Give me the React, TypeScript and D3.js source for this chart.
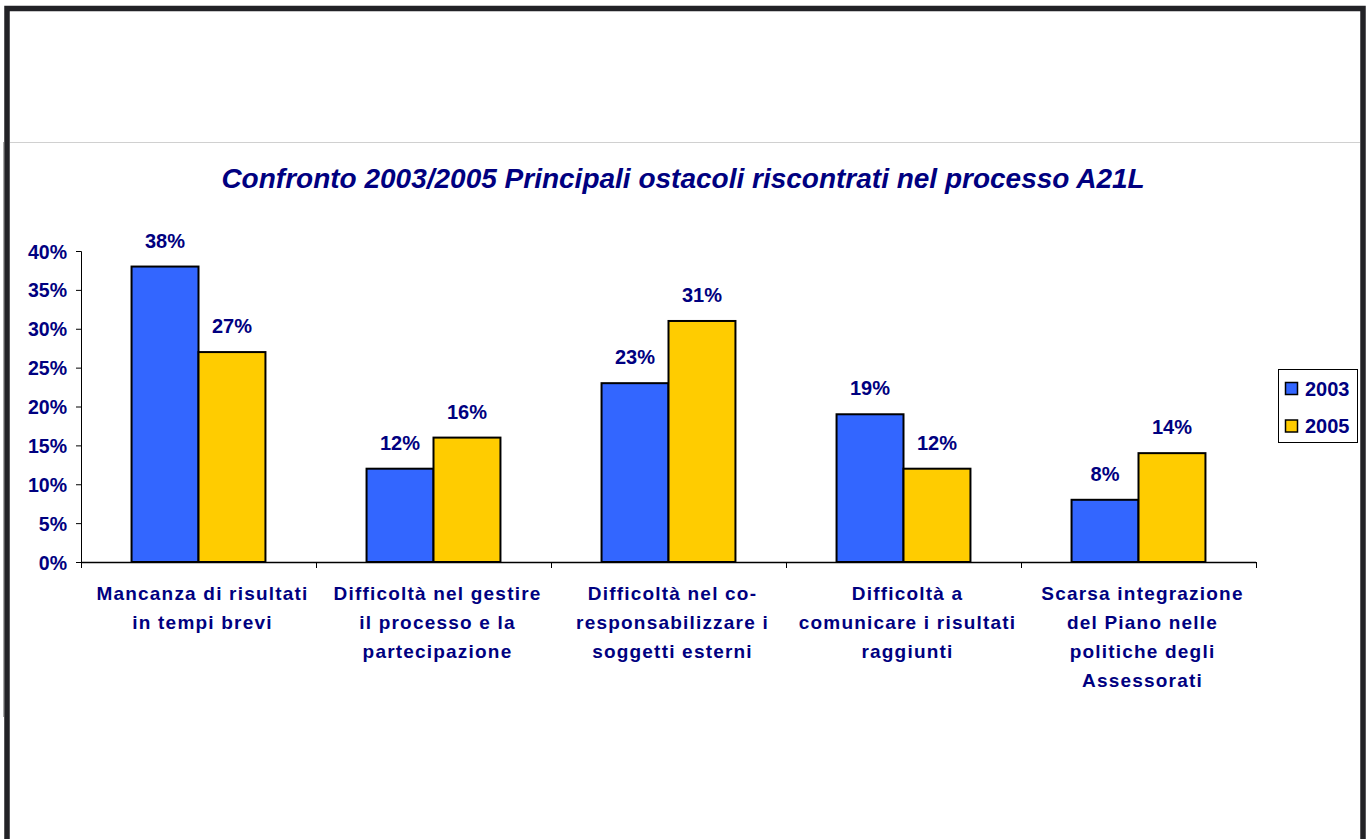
import * as d3 from 'd3';
import { useEffect, useRef } from 'react';

const categories = [
  ['Mancanza di risultati', 'in tempi brevi'],
  ['Difficoltà nel gestire', 'il processo e la', 'partecipazione'],
  ['Difficoltà nel co-', 'responsabilizzare i', 'soggetti esterni'],
  ['Difficoltà a', 'comunicare i risultati', 'raggiunti'],
  ['Scarsa integrazione', 'del Piano nelle', 'politiche degli', 'Assessorati'],
];
const series = ['2003', '2005'];
const values2003 = [38, 12, 23, 19, 8];
const values2005 = [27, 16, 31, 12, 14];
const yTicks = [0, 5, 10, 15, 20, 25, 30, 35, 40];
const title = 'Confronto 2003/2005 Principali ostacoli riscontrati nel processo A21L';

const colours: { [key: string]: string } = { '2003': '#3366FF', '2005': '#FFCC00' };
const navy = '#000080';
const font = "'Liberation Sans', Arial, sans-serif";

export default function App() {
  const ref = useRef<SVGSVGElement>(null);
  const width = 1368;
  const height = 839;

  useEffect(() => {
    const svg = d3.select(ref.current);
    svg.selectAll('*').remove();

    const keys = categories.map((c) => c.join(' '));
    const values: { [key: string]: number[] } = { '2003': values2003, '2005': values2005 };

    const x = d3.scaleBand(keys, [81, 1256]).padding(0);
    const xs = d3.scaleBand(series, [0, x.bandwidth()]).paddingInner(0).paddingOuter(0.755);
    const y = d3.scaleLinear([0, 40], [562, 251]);

    // frame
    svg.append('rect').attr('width', width).attr('height', height).attr('fill', '#fff');
    svg.append('line').attr('x1', 10).attr('x2', 1360).attr('y1', 142.5).attr('y2', 142.5)
      .attr('stroke', '#d0d0d0');
    svg.append('line').attr('x1', 3.5).attr('x2', 3.5).attr('y1', 142).attr('y2', 717)
      .attr('stroke', '#a8a8a8');
    svg.append('path')
      .attr('d', `M7,${height} V8.5 H1363 V${height}`)
      .attr('fill', 'none').attr('stroke', '#222226').attr('stroke-width', 5.5);

    // title
    svg.append('text')
      .attr('x', 683).attr('y', 188)
      .attr('text-anchor', 'middle')
      .attr('font-family', font).attr('font-size', 28)
      .attr('font-weight', 'bold').attr('font-style', 'italic')
      .attr('fill', navy)
      .text(title);

    // y axis
    const yAxis = d3.axisLeft(y).tickValues(yTicks).tickSize(5).tickPadding(9)
      .tickFormat((d) => `${d}%`);
    svg.append('g')
      .attr('transform', 'translate(81,0)')
      .call(yAxis)
      .call((g) => g.select('.domain').attr('d', 'M-5,251.5H0.5V562.5'))
      .call((g) => g.selectAll('.tick text')
        .attr('font-family', font).attr('font-size', 19.5).attr('font-weight', 'bold')
        .attr('fill', navy).attr('dy', '0.36em'));

    // bars
    series.forEach((s) => {
      svg.append('g')
        .selectAll('rect')
        .data(keys)
        .join('rect')
        .attr('x', (k) => x(k)! + xs(s)!)
        .attr('y', (k, i) => y(values[s][i]))
        .attr('width', xs.bandwidth())
        .attr('height', (k, i) => y(0) - y(values[s][i]))
        .attr('fill', colours[s])
        .attr('stroke', '#000').attr('stroke-width', 2);

      svg.append('g')
        .selectAll('text')
        .data(keys)
        .join('text')
        .attr('x', (k) => x(k)! + xs(s)! + xs.bandwidth() / 2)
        .attr('y', (k, i) => y(values[s][i]) - 19)
        .attr('text-anchor', 'middle')
        .attr('font-family', font).attr('font-size', 20).attr('font-weight', 'bold')
        .attr('fill', navy)
        .text((k, i) => `${values[s][i]}%`);
    });

    // x axis
    const xAxis = svg.append('g');
    xAxis.append('line')
      .attr('x1', 81).attr('x2', 1256).attr('y1', 562.5).attr('y2', 562.5)
      .attr('stroke', '#000').attr('stroke-width', 1.5);
    xAxis.selectAll('line.tick')
      .data([...keys.map((k) => x(k)!), x.range()[1]])
      .join('line')
      .attr('class', 'tick')
      .attr('x1', (d) => d + 0.5).attr('x2', (d) => d + 0.5)
      .attr('y1', 562).attr('y2', 568)
      .attr('stroke', '#000');

    // category labels
    categories.forEach((lines, i) => {
      const cx = x(keys[i])! + x.bandwidth() / 2 + 4;
      const t = svg.append('text')
        .attr('x', cx)
        .attr('y', 600)
        .attr('text-anchor', 'middle')
        .attr('font-family', font).attr('font-size', 19).attr('font-weight', 'bold')
        .attr('letter-spacing', 1.2)
        .attr('fill', navy);
      lines.forEach((line, j) => {
        t.append('tspan')
          .attr('x', cx)
          .attr('dy', j === 0 ? 0 : 29)
          .text(line);
      });
    });

    // legend
    const legend = svg.append('g');
    legend.append('rect')
      .attr('x', 1278.5).attr('y', 369.5).attr('width', 79).attr('height', 73)
      .attr('fill', '#fff').attr('stroke', '#000');
    series.forEach((s, i) => {
      legend.append('rect')
        .attr('x', 1285.5).attr('y', 382.5 + i * 37.5).attr('width', 12).attr('height', 12)
        .attr('fill', colours[s]).attr('stroke', '#000').attr('stroke-width', 1.5);
      legend.append('text')
        .attr('x', 1305).attr('y', 396 + i * 37)
        .attr('font-family', font).attr('font-size', 20).attr('font-weight', 'bold')
        .attr('fill', navy)
        .text(s);
    });
  }, []);

  return (
    <svg
      ref={ref}
      width={width}
      height={height}
      style={{ position: 'absolute', left: 0, top: 0, display: 'block' }}
    />
  );
}
